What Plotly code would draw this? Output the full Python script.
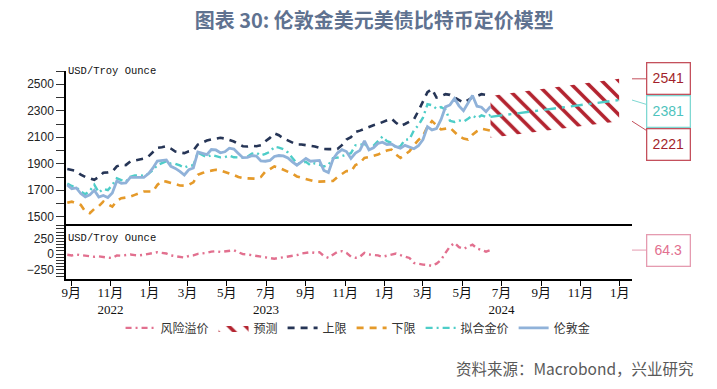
import plotly.graph_objects as go
import pandas as pd

# ---------------- data ----------------
dates = pd.date_range("2022-08-26", periods=95, freq="7D")

gold = [1740, 1712, 1717, 1675, 1650, 1665, 1700, 1648, 1660, 1645,
        1680, 1770, 1752, 1755, 1797, 1797, 1793, 1798, 1824, 1866,
        1920, 1926, 1929, 1880, 1865, 1842, 1815, 1856, 1868, 1989,
        1978, 1969, 2007, 2004, 1983, 1990, 2017, 2011, 1978, 1946,
        1948, 1961, 1958, 1921, 1919, 1925, 1955, 1962, 1959, 1943,
        1914, 1889, 1914, 1940, 1919, 1924, 1925, 1849, 1833, 1932,
        1981, 2006, 1992, 1940, 1981, 2001, 2072, 2004, 2020, 2053,
        2063, 2045, 2049, 2029, 2018, 2039, 2024, 2013, 2036, 2083,
        2179, 2155, 2165, 2233, 2329, 2344, 2392, 2337, 2301, 2360,
        2415, 2334, 2327, 2293, 2333]

fitted = [1750, 1732, 1722, 1690, 1670, 1695, 1742, 1683, 1710, 1700,
          1740, 1790, 1777, 1765, 1802, 1812, 1813, 1808, 1824, 1851,
          1890, 1906, 1919, 1900, 1900, 1887, 1870, 1886, 1888, 1984,
          1968, 1949, 1967, 1957, 1948, 1950, 1962, 1949, 1948, 1946,
          1953, 1976, 1983, 1963, 1974, 1990, 2028, 2022, 2009, 1985,
          1944, 1904, 1904, 1915, 1888, 1904, 1894, 1879, 1891, 1942,
          1946, 1959, 1972, 1980, 2039, 2041, 2052, 2009, 2035, 2073,
          2105, 2070, 2059, 2019, 2033, 2081, 2084, 2153, 2191, 2248,
          2349, 2342, 2315, 2327, 2309, 2224, 2215, 2227, 2218, 2240,
          2264, 2244, 2265, 2253, 2269]

upper = [1860, 1855, 1845, 1817, 1800, 1790, 1779, 1800, 1832, 1835,
         1842, 1880, 1893, 1890, 1918, 1925, 1930, 1939, 1955, 1985,
         2020, 2025, 2032, 2015, 1992, 1985, 1980, 1994, 2000, 2045,
         2060, 2075, 2083, 2090, 2096, 2090, 2080, 2068, 2050, 2032,
         2030, 2035, 2032, 2040, 2070, 2095, 2129, 2115, 2091, 2075,
         2060, 2045, 2045, 2040, 2040, 2030, 2020, 2012, 2010, 2012,
         2012, 2040, 2083, 2100, 2139, 2150, 2165, 2175, 2190, 2200,
         2215, 2225, 2241, 2210, 2184, 2200, 2220, 2235, 2300, 2375,
         2440, 2463, 2400, 2410, 2425, 2420, 2400, 2380, 2362, 2380,
         2400, 2410, 2425, 2420, 2415]

lower = [1605, 1614, 1600, 1589, 1540, 1526, 1559, 1580, 1614, 1595,
         1576, 1620, 1640, 1645, 1652, 1665, 1675, 1690, 1690, 1690,
         1740, 1771, 1765, 1754, 1745, 1736, 1735, 1741, 1760, 1817,
         1830, 1842, 1848, 1855, 1850, 1840, 1830, 1815, 1800, 1792,
         1790, 1787, 1787, 1800, 1842, 1860, 1880, 1870, 1855, 1842,
         1825, 1804, 1795, 1785, 1775, 1766, 1765, 1766, 1766, 1770,
         1800, 1820, 1845, 1842, 1890, 1906, 1944, 1950, 1960, 1969,
         1985, 2000, 2007, 1970, 1944, 1970, 1994, 2040, 2080, 2108,
         2180, 2222, 2190, 2159, 2165, 2172, 2140, 2108, 2090, 2083,
         2120, 2146, 2165, 2160, 2150]

risk_premium = [-10, -20, -5, -15, -20, -30, -42, -35, -50, -55,
                -60, -20, -25, -10, -5, -15, -20, -10, 0, 15,
                30, 20, 10, -20, -35, -45, -55, -30, -20, 5,
                10, 20, 40, 47, 35, 40, 55, 62, 30, 0,
                -5, -15, -25, -42, -55, -65, -73, -60, -50, -42,
                -30, -15, 10, 25, 31, 20, 31, -30, -58, -10,
                35, 47, 20, -40, -58, -40, 20, -5, -15, -20,
                -42, -25, -10, 10, -15, -42, -60, -140, -155, -165,
                -170, -187, -150, -94, 20, 120, 177, 110, 83, 120,
                151, 90, 62, 40, 64.3]

forecast_dates = ["2024-06-14", "2024-12-31"]
forecast_center = [2254, 2381]
forecast_upper = [2412, 2541]
forecast_lower = [2096, 2221]

tick_dates = ["2022-09-01", "2022-11-01", "2023-01-01", "2023-03-01", "2023-05-01",
              "2023-07-01", "2023-09-01", "2023-11-01", "2024-01-01", "2024-03-01",
              "2024-05-01", "2024-07-01", "2024-09-01", "2024-11-01", "2025-01-01"]
tick_labels = ["9月", "11月<br>2022", "1月", "3月", "5月", "7月<br>2023", "9月", "11月",
               "1月", "3月", "5月", "7月<br>2024", "9月", "11月", "1月"]

# ---------------- style ----------------
PINK = "#e2708f"
RED = "#b3232f"
NAVY = "#263556"
ORANGE = "#e59a2a"
TURQ = "#4ecdc8"
GOLD = "#90b2d9"
CJK = "Noto Sans CJK SC"

fig = go.Figure()

fig.add_trace(go.Scatter(
    x=dates, y=risk_premium, name="风险溢价", mode="lines",
    line=dict(color=PINK, width=2.4, dash="6px,4px,2px,4px"),
    xaxis="x2", yaxis="y2"))

fig.add_trace(go.Scatter(
    x=forecast_dates + forecast_dates[::-1],
    y=forecast_upper + forecast_lower[::-1],
    name="预测", mode="lines", fill="toself", fillcolor="white",
    fillpattern=dict(shape="\\", fgcolor=RED, bgcolor="white", fgopacity=1,
                     size=12, solidity=0.3, fillmode="replace"),
    line=dict(width=0, color=RED), xaxis="x", yaxis="y"))

fig.add_trace(go.Scatter(
    x=dates, y=upper, name="上限", mode="lines",
    line=dict(color=NAVY, width=2.6, dash="7px,6px"), xaxis="x", yaxis="y"))

fig.add_trace(go.Scatter(
    x=dates, y=lower, name="下限", mode="lines",
    line=dict(color=ORANGE, width=2.6, dash="7px,6px"), xaxis="x", yaxis="y"))

fig.add_trace(go.Scatter(
    x=dates, y=fitted, name="拟合金价", mode="lines",
    line=dict(color=TURQ, width=2.4, dash="7px,4px,2px,4px"), xaxis="x", yaxis="y"))

fig.add_trace(go.Scatter(
    x=dates, y=gold, name="伦敦金", mode="lines",
    line=dict(color=GOLD, width=2.8), xaxis="x", yaxis="y"))

fig.add_trace(go.Scatter(
    x=forecast_dates, y=forecast_center, name="拟合金价预测", mode="lines",
    showlegend=False,
    line=dict(color=TURQ, width=2.4, dash="12px,6px,3px,6px"), xaxis="x", yaxis="y"))

xrange = ["2022-08-24", "2025-01-20"]

fig.update_layout(
    width=717, height=389,
    margin=dict(l=66, r=85, t=71, b=110),
    paper_bgcolor="white", plot_bgcolor="white",
    font=dict(family=CJK, size=12, color="#222"),
    title=dict(text="<b>图表 30: 伦敦金美元美债比特币定价模型</b>",
               x=0.522, xanchor="center", y=0.946, yanchor="middle",
               font=dict(family=CJK, size=20, color="#5f7290")),
    showlegend=True,
    legend=dict(orientation="h", x=0.516, xanchor="center", y=-0.235, yanchor="middle",
                font=dict(family=CJK, size=12, color="#333"),
                itemwidth=30, bgcolor="rgba(0,0,0,0)", traceorder="normal"),
    xaxis=dict(domain=[0, 1], anchor="y", range=xrange, type="date",
               showline=True, linecolor="black", linewidth=1.5,
               showticklabels=False, ticks="", showgrid=False, zeroline=False,
               matches="x2"),
    xaxis2=dict(domain=[0, 1], anchor="y2", range=xrange, type="date",
                showline=True, linecolor="black", linewidth=1.5,
                tickmode="array", tickvals=tick_dates, ticktext=tick_labels,
                ticks="outside", ticklen=5, tickcolor="black", ticklabelstandoff=-4,
                tickfont=dict(family="Liberation Serif, " + CJK, size=13, color="#111"),
                showgrid=False, zeroline=False),
    yaxis=dict(domain=[0.263, 1], anchor="x", range=[1443, 2600],
               tick0=1500, dtick=200, ticks="outside", ticklen=8, tickcolor="#333",
               minor=dict(dtick=100, ticks="outside", ticklen=8, tickcolor="#333"),
               showline=True, linecolor="black", linewidth=1.5,
               tickfont=dict(family="Liberation Sans", size=12, color="#222"),
               showgrid=False, zeroline=False),
    yaxis2=dict(domain=[0, 0.26], anchor="x2", range=[-393, 462],
                tickvals=[-250, 0, 250], ticks="outside", ticklen=8, tickcolor="#333",
                minor=dict(dtick=50, ticks="outside", ticklen=8, tickcolor="#333"),
                showline=True, linecolor="black", linewidth=1.5,
                tickfont=dict(family="Liberation Sans", size=12, color="#222"),
                showgrid=False, zeroline=False),
)

annotations = [
    dict(text="USD/Troy Ounce", xref="paper", yref="paper", x=0.0, y=1.0,
         xanchor="left", yanchor="middle", showarrow=False,
         font=dict(family="Liberation Mono", size=10.5, color="#111")),
    dict(text="USD/Troy Ounce", xref="paper", yref="paper", x=0.0, y=0.197,
         xanchor="left", yanchor="middle", showarrow=False,
         font=dict(family="Liberation Mono", size=10.5, color="#111")),
    dict(text="资料来源：Macrobond，兴业研究", xref="paper", yref="paper",
         x=1.113, y=-0.43, xanchor="right", yanchor="middle", showarrow=False,
         font=dict(family=CJK, size=15.5, color="#595959")),
]

callouts = [
    (forecast_upper[-1], "y", "#a31f2b", "#c4505c", 0),
    (forecast_center[-1], "y", "#4ec3bd", "#7fd8d2", 11),
    (forecast_lower[-1], "y", "#a31f2b", "#c4505c", 23),
    (risk_premium[-1], "y2", PINK, "#e59bb0", 0),
]
for val, yref, tcol, bcol, ay in callouts:
    annotations.append(dict(
        text=f"{val:g}", xref="paper", yref=yref, x=1.0, y=val,
        showarrow=True, arrowhead=0, arrowwidth=1, arrowcolor=bcol,
        ax=36, ay=ay, axref="pixel", ayref="pixel",
        width=40, height=28, bordercolor=bcol, borderwidth=1.3, borderpad=1,
        bgcolor="white", font=dict(family="Liberation Sans", size=14, color=tcol)))

fig.update_layout(annotations=annotations)

fig.write_html("out.html", config={"displayModeBar": False},
               post_script="document.body.style.margin='0px';")
